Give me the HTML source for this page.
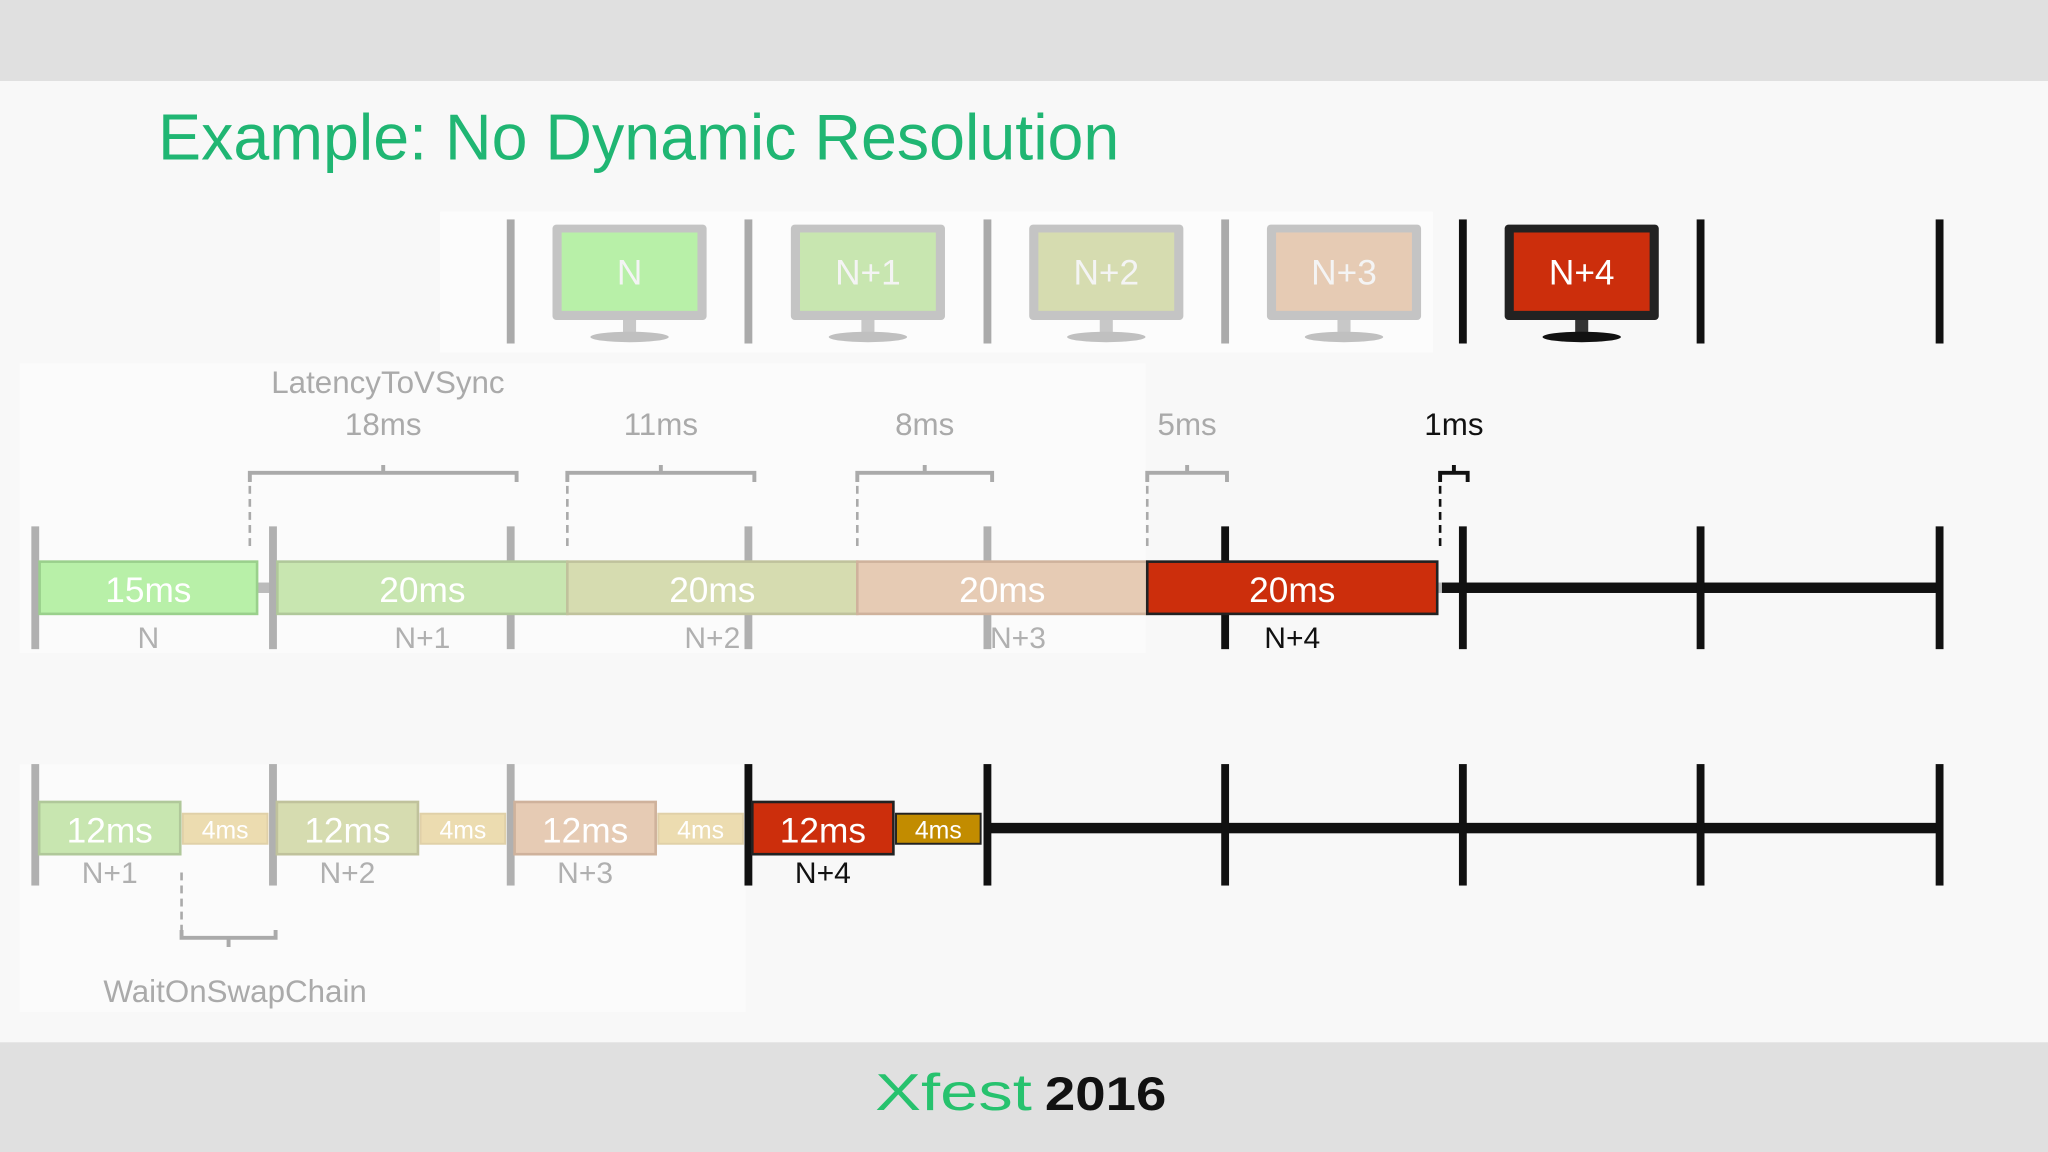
<!DOCTYPE html>
<html><head><meta charset="utf-8"><style>
html,body{margin:0;padding:0;background:#f7f7f7;}
svg{display:block;}
text{font-family:"Liberation Sans",sans-serif;}
</style></head><body>
<svg width="2048" height="1152" viewBox="0 0 1568 882" preserveAspectRatio="none">
<rect x="0" y="0" width="1568" height="882" fill="#f8f8f8"/>
<rect x="0" y="0" width="1568" height="62" fill="#e0e0e0"/>
<rect x="0" y="798" width="1568" height="84" fill="#e0e0e0"/>
<rect x="337" y="162" width="760" height="108" fill="#fcfcfc"/>
<rect x="15" y="278" width="862" height="222" fill="#fbfbfb"/>
<rect x="15" y="585" width="556" height="190" fill="#fbfbfb"/>
<text x="121" y="122" font-size="50" fill="#20b673" textLength="736" lengthAdjust="spacingAndGlyphs">Example: No Dynamic Resolution</text>
<g id="monitors"></g>
<g id="latency"></g>
<g id="toprow"></g>
<g id="bottomrow"></g>
<text x="670" y="850" font-size="40" fill="#27c26e" textLength="120" lengthAdjust="spacingAndGlyphs">Xfest</text>
<text x="800" y="850" font-size="36" font-weight="bold" fill="#111" textLength="93" lengthAdjust="spacingAndGlyphs">2016</text>
</svg>
<script>
const NS='http://www.w3.org/2000/svg';
const vsyncX=[27,209,391,573,756,938,1120,1302,1485];
const frameLabels=['N','N+1','N+2','N+3','N+4'];
const frameFill=['#b8f0a8','#c8e6b0','#d6dcb0','#e6cbb4','#cc2e0c'];
const frameStroke=['#9ad08c','#b0c89a','#c0c29c','#cfb29c','#222'];
const topDurMs=[15,20,20,20,20];
const topStartMs=[0.3,16.7,36.7,56.7,76.7];
const latencyMs=['18ms','11ms','8ms','5ms','1ms'];
const latencyFrom=[14.8,36.7,56.7,76.7,96.9];
const latencyTo=[33.2,49.6,66,82.2,98.8];
const bottomDurMs=[12,12,12,12];
const waitDurMs=[4,4,4,4];
const bottomLabels=['N+1','N+2','N+3','N+4'];
function mk(tag,attrs,parent,txt){const e=document.createElementNS(NS,tag);for(const k in attrs)e.setAttribute(k,attrs[k]);if(txt!==undefined)e.textContent=txt;parent.appendChild(e);return e;}
const xTop=ms=>27+ms*11.1;
const gm=document.getElementById('monitors');
for(let i=2;i<9;i++){const l=mk('rect',{x:vsyncX[i]-3,y:168,width:6,height:95,fill:i<6?'#aaa':'#111'},gm);

}
for(let i=0;i<5;i++){const cx=(vsyncX[i+2]+vsyncX[i+3])/2;const g=mk('g',{},gm);


const dark=i==4;
mk('rect',{x:cx-59,y:172,width:118,height:73,rx:3,fill:dark?'#222':'#c4c4c4'},g);
mk('rect',{x:cx-52,y:178,width:104,height:60,fill:frameFill[i]},g);
mk('rect',{x:cx-5,y:245,width:10,height:10,fill:dark?'#333':'#c8c8c8'},g);
mk('ellipse',{cx:cx,cy:258,rx:30,ry:4,fill:dark?'#111':'#c0c0c0'},g);
mk('text',{x:cx,y:218,'font-size':27,fill:dark?'#fff':'#f4f4f4','text-anchor':'middle'},g,frameLabels[i]);}
const gl=document.getElementById('latency');
const lt=mk('text',{x:297,y:301,'font-size':24,fill:'#aaa','text-anchor':'middle'},gl,'LatencyToVSync');


for(let i=0;i<5;i++){const a=xTop(latencyFrom[i]),b=xTop(latencyTo[i]);const c=i==4?'#111':'#aaa';const g=mk('g',{},gl);


mk('path',{d:`M${a} 369 V362 H${b} V369 M${(a+b)/2} 362 V356`,stroke:c,'stroke-width':3,fill:'none'},g);
mk('line',{x1:a,y1:372,x2:a,y2:420,stroke:c,'stroke-width':2,'stroke-dasharray':'6,4'},g);
mk('text',{x:(a+b)/2,y:333,'font-size':24,fill:c,'text-anchor':'middle'},g,latencyMs[i]);}
const gt=document.getElementById('toprow');
mk('rect',{x:27,y:446,width:1078,height:8,fill:'#bbb'},gt);
mk('rect',{x:1104,y:446,width:381,height:8,fill:'#111'},gt);
for(let i=0;i<9;i++){const r=mk('rect',{x:vsyncX[i]-3,y:403,width:6,height:94,fill:i<5?'#b0b0b0':'#111'},gt);

}
for(let i=0;i<5;i++){const x0=xTop(topStartMs[i]),w=topDurMs[i]*11.1;const g=mk('g',{},gt);


mk('rect',{x:x0,y:430,width:w,height:40,fill:frameFill[i],stroke:frameStroke[i],'stroke-width':2},g);
mk('text',{x:x0+w/2,y:461,'font-size':27,fill:'#fff','text-anchor':'middle'},g,topDurMs[i]+'ms');
mk('text',{x:x0+w/2+(i==3?12:0),y:496,'font-size':23,fill:i==4?'#111':'#b0b0b0','text-anchor':'middle'},g,frameLabels[i]);}
const gb=document.getElementById('bottomrow');
mk('rect',{x:755,y:630,width:730,height:8,fill:'#111'},gb);
for(let i=0;i<9;i++){const r=mk('rect',{x:vsyncX[i]-3,y:585,width:6,height:93,fill:i<3?'#b0b0b0':'#111'},gb);

}
const wfill=['#ecdcb0','#ecdcb0','#ecdcb0','#c28c00'];
for(let i=0;i<4;i++){const x0=vsyncX[i]+3,w=bottomDurMs[i]*9;const ci=i+1;const g=mk('g',{},gb);


mk('rect',{x:x0,y:614,width:w,height:40,fill:frameFill[ci],stroke:frameStroke[ci],'stroke-width':2},g);
mk('text',{x:x0+w/2,y:645,'font-size':27,fill:'#fff','text-anchor':'middle'},g,bottomDurMs[i]+'ms');
mk('text',{x:x0+w/2,y:676,'font-size':23,fill:i==3?'#111':'#b0b0b0','text-anchor':'middle'},g,bottomLabels[i]);
const wx=x0+w+2,ww=waitDurMs[i]*16.2;const g2=mk('g',{},gb);


mk('rect',{x:wx,y:623,width:ww,height:23,fill:wfill[i],stroke:i==3?'#222':'#e0d0a8','stroke-width':1.5},g2);
mk('text',{x:wx+ww/2,y:642,'font-size':19,fill:'#fff','text-anchor':'middle'},g2,waitDurMs[i]+'ms');}
const gw=mk('g',{},gb);


mk('line',{x1:139,y1:668,x2:139,y2:712,stroke:'#aaa','stroke-width':2,'stroke-dasharray':'6,4'},gw);
mk('path',{d:'M139 712 V718 H211 V712 M175 718 V725',stroke:'#aaa','stroke-width':3,fill:'none'},gw);
mk('text',{x:180,y:767,'font-size':24,fill:'#aaa','text-anchor':'middle'},gw,'WaitOnSwapChain');
</script>
</body></html>
